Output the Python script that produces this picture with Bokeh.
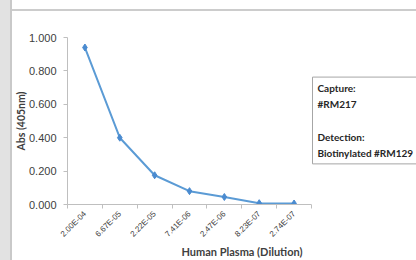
import math
from bokeh.plotting import figure
from bokeh.layouts import column
from bokeh.models import (Range1d, FixedTicker, LinearAxis, Label, NumeralTickFormatter,
                          BoxAnnotation, GlobalInlineStyleSheet, Div)
from bokeh.embed import file_html
from bokeh.resources import INLINE

# ---- data ----
dilutions = ["2.00E-04", "6.67E-05", "2.22E-05", "7.41E-06", "2.47E-06", "8.23E-07", "2.74E-07"]
absorbance = [0.940, 0.400, 0.175, 0.080, 0.045, 0.008, 0.006]
y_ticks = [0.0, 0.2, 0.4, 0.6, 0.8, 1.0]
legend_lines = ["Capture:", "#RM217", "", "Detection:", "Biotinylated #RM129"]

xs = list(range(len(dilutions)))
x_lo, x_hi = -0.5, len(dilutions) - 0.5

# layout (pixels)
W = 416
RULE_TOP, RULE_H, RULE_LEFT = 9, 2, 12
H = 260 - RULE_TOP - RULE_H
LEFT, TOP, BOTTOM = 67, 37 - RULE_TOP - RULE_H, 54
PLOT_W = 244  # width of the plotting area that holds the categories
x_end = x_lo + (W - LEFT) * (x_hi - x_lo) / PLOT_W  # frame extends under the side box

p = figure(width=W, height=H, output_backend="svg", toolbar_location=None,
           x_range=Range1d(x_lo, x_end), y_range=Range1d(0, 1),
           x_axis_type=None, y_axis_type=None,
           min_border_left=LEFT, min_border_right=0, min_border_top=TOP, min_border_bottom=BOTTOM)
p.border_fill_color = "white"
p.background_fill_color = "white"
p.outline_line_color = None

# page decoration: grey strip on the left (fixed overlay)
p.stylesheets.append(GlobalInlineStyleSheet(css="""
body::after { content: ''; position: fixed; left: 0; top: 0; bottom: 0; width: 10px;
  z-index: 10; pointer-events: none; background: #e2e2e2; border-right: 2px solid #c9c9c9; }
"""))

# grey rule across the top
rule = Div(text='<div style="height:%dpx;width:%dpx;background:#cccccc"></div>' % (RULE_H, W - RULE_LEFT),
           width=W - RULE_LEFT, height=RULE_H, margin=(RULE_TOP, 0, 0, RULE_LEFT),
           styles={"background-color": "#cccccc", "overflow": "hidden"})

FONT = "Liberation Sans"
TFONT = "Lato"
TXT = "#404040"

# x axis
xaxis = LinearAxis(ticker=FixedTicker(ticks=xs, minor_ticks=[x - 0.5 for x in xs] + [x_hi]),
                   major_label_overrides={x: d for x, d in zip(xs, dilutions)},
                   bounds=(x_lo, x_hi))
xaxis.major_label_orientation = math.pi / 4
xaxis.major_tick_line_color = None
xaxis.major_tick_in = 0
xaxis.major_tick_out = 0
xaxis.minor_tick_in = 0
xaxis.minor_tick_out = 4
xaxis.minor_tick_line_color = "#bfbfbf"
xaxis.axis_line_color = "#bfbfbf"
xaxis.major_label_text_font = FONT
xaxis.major_label_text_font_size = "8px"
xaxis.major_label_text_color = TXT
xaxis.major_label_standoff = 4
xaxis.axis_label = "Human Plasma (Dilution)"
xaxis.axis_label_text_font = TFONT
xaxis.axis_label_text_font_style = "bold"
xaxis.axis_label_text_font_size = "11px"
xaxis.axis_label_text_color = TXT
xaxis.axis_label_standoff = 0
p.add_layout(xaxis, "below")

# y axis
yaxis = LinearAxis(ticker=FixedTicker(ticks=y_ticks), formatter=NumeralTickFormatter(format="0.000"))
yaxis.major_tick_in = 0
yaxis.major_tick_out = 4
yaxis.minor_tick_line_color = None
yaxis.major_tick_line_color = "#bfbfbf"
yaxis.axis_line_color = "#bfbfbf"
yaxis.major_label_text_font = FONT
yaxis.major_label_text_font_size = "11px"
yaxis.major_label_text_color = TXT
yaxis.major_label_standoff = 7
yaxis.axis_label = "Abs (405nm)"
yaxis.axis_label_text_font = TFONT
yaxis.axis_label_text_font_style = "bold"
yaxis.axis_label_text_font_size = "10.5px"
yaxis.axis_label_text_color = TXT
yaxis.axis_label_standoff = -1
p.add_layout(yaxis, "left")

p.ygrid.ticker = FixedTicker(ticks=y_ticks)
p.ygrid.grid_line_color = "#d9d9d9"
p.xgrid.grid_line_color = None

p.line(xs, absorbance, line_color="#5b9bd5", line_width=2)
p.scatter(xs, absorbance, marker="diamond", size=7, fill_color="#4a8bd0", line_color="#4a8bd0")

# blank area to the right of the plotting area (gridlines stop at the last category)
p.add_layout(BoxAnnotation(left=x_hi, fill_color="white", fill_alpha=1, line_color=None))

legend = Label(x=x_hi, y=0.763, x_units="data", y_units="data", x_offset=1,
               text="\n".join(legend_lines), text_font=TFONT, text_font_style="bold",
               text_font_size="10px", text_color="#262626", text_align="left",
               text_baseline="top", text_line_height=1.35,
               border_line_color="#a6a6a6", border_line_width=1,
               background_fill_color="white", padding=5)
p.add_layout(legend)

layout = column(rule, p, spacing=0)
open("out.html", "w").write(file_html(layout, INLINE))
